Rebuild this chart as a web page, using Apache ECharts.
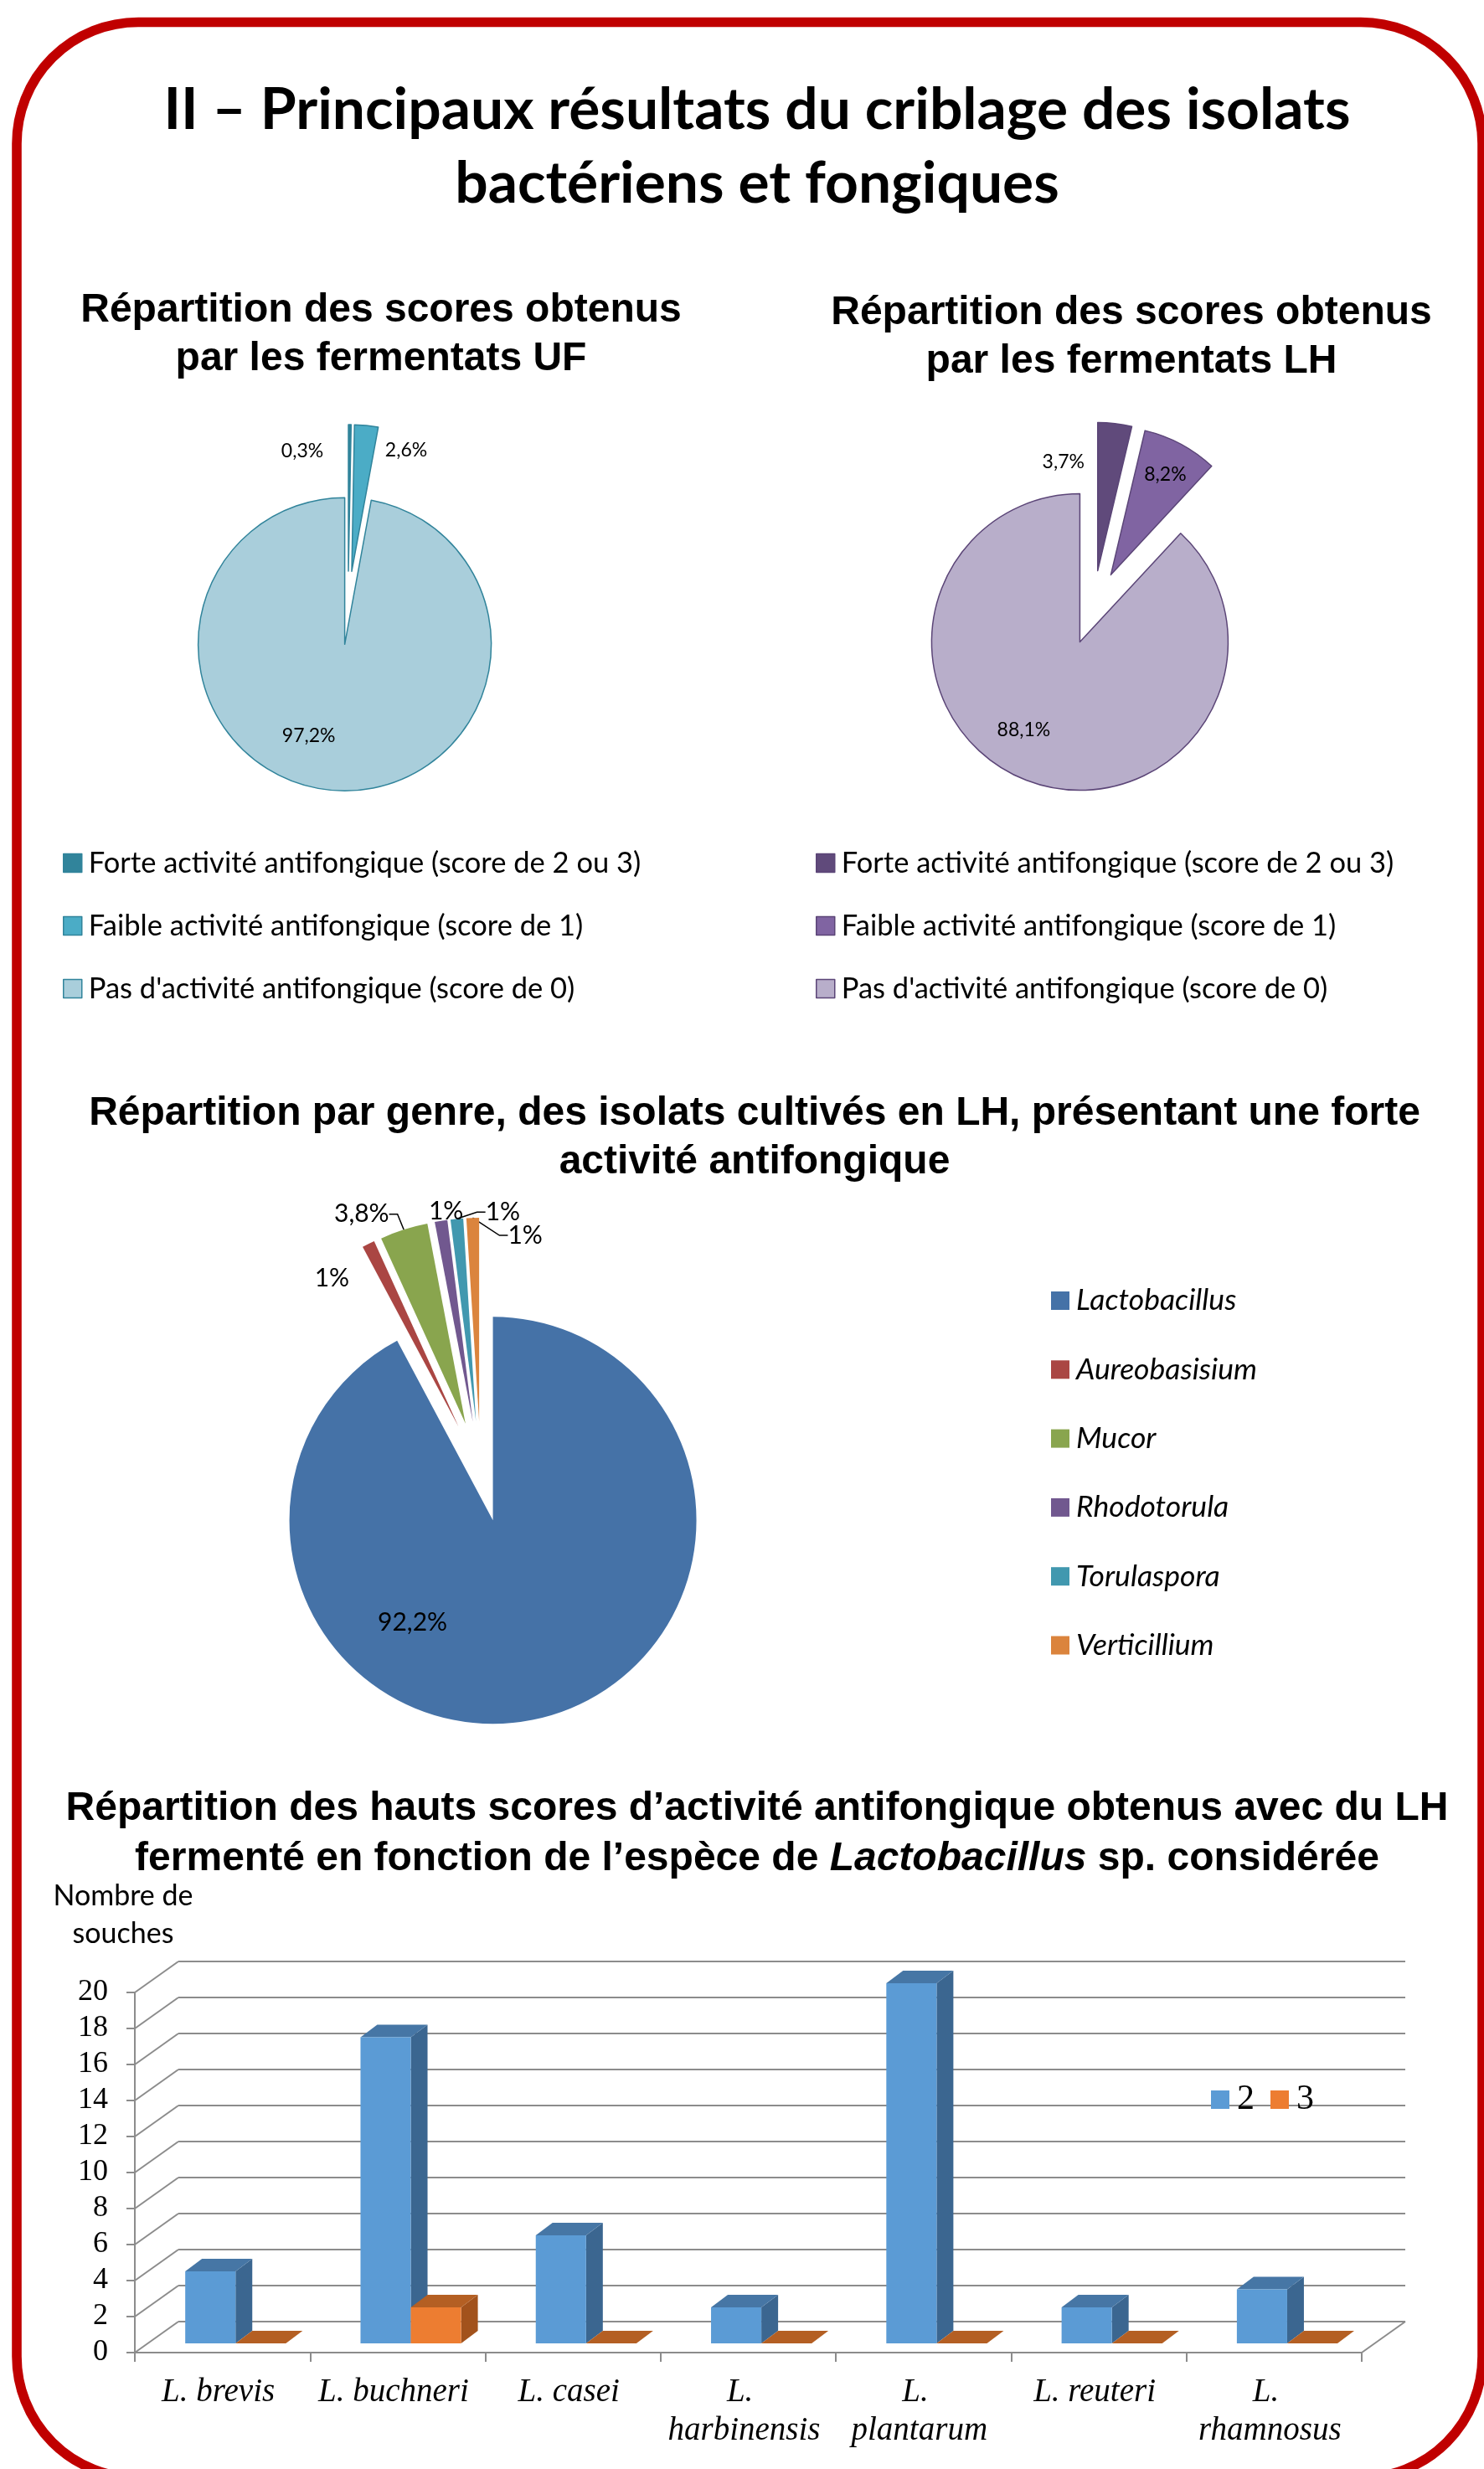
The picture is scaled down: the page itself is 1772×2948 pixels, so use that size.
<!DOCTYPE html>
<html>
<head>
<meta charset="utf-8">
<title>Criblage des isolats bactériens et fongiques</title>
<script src="https://cdn.jsdelivr.net/npm/echarts@6/dist/echarts.min.js"></script>
<style>
  html, body { margin: 0; padding: 0; background: #fff; }
  #chart { width: 1772px; height: 2948px; }
</style>
</head>
<body>
<div id="chart"></div>
<script>
// ---- Data -----------------------------------------------------------------
// Scores obtained by the fermentates (percentage of isolates)
const scoreNames = [
  'Forte activité antifongique (score de 2 ou 3)',
  'Faible activité antifongique (score de 1)',
  "Pas d'activité antifongique (score de 0)"
];
const ufValues = [0.3, 2.6, 97.2];
const lhValues = [3.7, 8.2, 88.1];

// Genera of the isolates grown in LH with a strong antifungal activity (%)
const genera = ['Lactobacillus', 'Aureobasisium', 'Mucor', 'Rhodotorula', 'Torulaspora', 'Verticillium'];
const genusValues = [92.2, 1, 3.8, 1, 1, 1];

// Number of Lactobacillus strains per high score
const species = ['L. brevis', 'L. buchneri', 'L. casei', 'L. harbinensis', 'L. plantarum', 'L. reuteri', 'L. rhamnosus'];
const scoreSeries = ['2', '3'];
const score2Counts = [4, 17, 6, 2, 20, 2, 3];
const score3Counts = [0, 2, 0, 0, 0, 0, 0];
const countAxisMin = 0;
const countAxisMax = 20;
const countAxisStep = 2;

// ---- Styles -----------------------------------------------------------------
const SANS = 'Lato';
const ARIAL = 'Liberation Sans';
const SERIF = 'Liberation Serif';
const GRID_COLOR = '#8c8c8c';

const ufColors = ['#31849b', '#4bacc6', '#a9cedb'];
const ufBorder = '#31849b';
const lhColors = ['#604a7b', '#8064a2', '#b8aeca'];
const lhBorder = '#5b4577';
const genusColors = ['#4572a7', '#aa4643', '#89a54e', '#71588f', '#4198af', '#db843d'];
const barFaces = [
  { front: '#5b9bd5', side: '#3b6690', top: '#4676a5' },
  { front: '#ed7d31', side: '#a2521c', top: '#b45f23' }
];

// label placement relative to the tip of each (exploded) slice
const ufLabelAt = [[-55, -143], [65, -145], [-43, 109]];
const lhLabelAt = [[-41, -130], [65, -120], [-67, 105]];
const genusLabelAt = [[-96, 122], [-151, -177], [-124, -250], [-32, -251], [32, -250], [55, -222]];
const genusLabelOutside = [false, true, true, true, true, true];
const genusLabelLine = [false, false, true, false, true, true];

const pct = p => String(p.value).replace('.', ',') + '%';

// One pie series per slice so that every slice can be pushed out from the
// centre along its own bisector, as in an exploded pie.
function explodedPie(cfg) {
  const total = cfg.values.reduce((s, v) => s + v, 0);
  let acc = 0;
  return cfg.values.map((value, k) => {
    const mid = (acc + value / 2) / total * 2 * Math.PI;
    acc += value;
    const cx = cfg.center[0] + cfg.explode * cfg.radius * Math.sin(mid);
    const cy = cfg.center[1] - cfg.explode * cfg.radius * Math.cos(mid);
    const at = cfg.labelAt[k];
    return {
      type: 'pie',
      name: cfg.id + '-' + k,
      silent: true,
      center: [cx, cy],
      radius: cfg.radius,
      startAngle: 90,
      clockwise: true,
      avoidLabelOverlap: false,
      label: { show: false },
      labelLine: { show: false },
      labelLayout: () => ({ x: cx + at[0], y: cy + at[1], align: 'center', verticalAlign: 'middle' }),
      data: cfg.names.map((name, j) => j === k ? {
        name: name,
        value: cfg.values[j],
        itemStyle: { color: cfg.colors[j], borderColor: cfg.border || cfg.colors[j], borderWidth: cfg.borderWidth || 0 },
        label: {
          show: true,
          position: (cfg.outside && cfg.outside[k]) ? 'outside' : 'inside',
          formatter: pct,
          fontFamily: SANS,
          fontSize: cfg.fontSize,
          color: '#000'
        },
        labelLine: {
          show: !!(cfg.lines && cfg.lines[k]),
          length: 8,
          length2: 10,
          lineStyle: { color: '#000', width: 1.5 }
        }
      } : {
        name: name,
        value: cfg.values[j],
        itemStyle: { color: 'rgba(0,0,0,0)', borderWidth: 0 },
        label: { show: false },
        labelLine: { show: false }
      })
    };
  });
}

// 3-D look of the column chart
const WALL_DX = 52, WALL_DY = 37;     // depth of the back wall
const BAR_DEPTH = 0.3;                // position of the columns inside the box
const BAR_DX = 20, BAR_DY = 15;       // thickness of a column
const BAR_FRAC = 0.287;               // column width / category band

function columnRenderer(slot, faces) {
  return function (params, api) {
    const i = api.value(0);
    const v = api.value(1);
    const base = api.coord([i, 0]);
    const head = api.coord([i, v]);
    const w = api.size([1, 0])[0] * BAR_FRAC;
    const x0 = base[0] - w + slot * w + BAR_DEPTH * WALL_DX;
    const x1 = x0 + w;
    const yb = base[1] - BAR_DEPTH * WALL_DY;
    const yt = head[1] - BAR_DEPTH * WALL_DY;
    return {
      type: 'group',
      children: [
        { type: 'polygon', shape: { points: [[x1, yb], [x1 + BAR_DX, yb - BAR_DY], [x1 + BAR_DX, yt - BAR_DY], [x1, yt]] }, style: { fill: faces.side } },
        { type: 'polygon', shape: { points: [[x0, yt], [x0 + BAR_DX, yt - BAR_DY], [x1 + BAR_DX, yt - BAR_DY], [x1, yt]] }, style: { fill: faces.top } },
        { type: 'rect', shape: { x: x0, y: yt, width: w, height: yb - yt }, style: { fill: faces.front } }
      ]
    };
  };
}

// side wall and floor edges of the 3-D box, one per axis tick
const wallTicks = [];
for (let v = countAxisMin; v <= countAxisMax; v += countAxisStep) wallTicks.push([0, v]);

function wallRenderer(params, api) {
  const v = api.value(1);
  const cs = params.coordSys;
  const y = api.coord([0, v])[1];
  const style = { stroke: GRID_COLOR, lineWidth: 2 };
  const children = [{ type: 'line', shape: { x1: cs.x, y1: y, x2: cs.x + WALL_DX, y2: y - WALL_DY }, style: style }];
  if (v === countAxisMin) {
    children.push({ type: 'line', shape: { x1: cs.x + cs.width, y1: y, x2: cs.x + cs.width + WALL_DX, y2: y - WALL_DY }, style: style });
  }
  return { type: 'group', children: children };
}

const sectionTitle = (text, x, top) => ({
  text: text, left: x, top: top, textAlign: 'center', padding: 0,
  textStyle: { fontFamily: ARIAL, fontWeight: 'bold', fontSize: 48, lineHeight: 58, color: '#000' }
});

const scoreLegend = (left, colors, border) => ({
  orient: 'vertical', left: left, top: 1013, icon: 'rect', padding: 0,
  itemWidth: 22, itemHeight: 22, itemGap: 40, selectedMode: false,
  textStyle: { fontFamily: SANS, fontSize: 34.5, color: '#000', lineHeight: 22, padding: [0, 0, 0, 3] },
  data: scoreNames.map((n, i) => ({ name: n, itemStyle: { color: colors[i], borderColor: border, borderWidth: 1.5 } }))
});

const chart = echarts.init(document.getElementById('chart'), null, { renderer: 'canvas' });

const option = {
  animation: false,
  backgroundColor: '#fff',
  graphic: [{
    type: 'rect', silent: true, z: 0,
    shape: { x: 20, y: 26.5, width: 1750, height: 2932, r: 145 },
    style: { fill: 'none', stroke: '#c00000', lineWidth: 11.6 }
  }],
  title: [
    {
      text: 'II – Principaux résultats du criblage des isolats\nbactériens et fongiques',
      left: 904, top: 88, textAlign: 'center', padding: 0,
      textStyle: { fontFamily: SANS, fontWeight: 'bold', fontSize: 69.5, lineHeight: 88, color: '#000' }
    },
    sectionTitle('Répartition des scores obtenus\npar les fermentats UF', 455, 342),
    sectionTitle('Répartition des scores obtenus\npar les fermentats LH', 1351, 345),
    sectionTitle('Répartition par genre, des isolats cultivés en LH, présentant une forte\nactivité antifongique', 901, 1301),
    {
      text: '{b|Répartition des hauts scores d’activité antifongique obtenus avec du LH}\n{b|fermenté en fonction de l’espèce de }{i|Lactobacillus}{b| sp. considérée}',
      left: 904, top: 2130, textAlign: 'center', padding: 0,
      textStyle: {
        rich: {
          b: { fontFamily: ARIAL, fontWeight: 'bold', fontSize: 48, lineHeight: 60, color: '#000' },
          i: { fontFamily: ARIAL, fontWeight: 'bold', fontStyle: 'italic', fontSize: 48, lineHeight: 60, color: '#000' }
        }
      }
    }
  ],
  legend: [
    scoreLegend(75, ufColors, ufBorder),
    scoreLegend(974, lhColors, lhBorder),
    {
      orient: 'vertical', left: 1255, top: 1535, icon: 'rect', padding: 0,
      itemWidth: 22, itemHeight: 22, itemGap: 46.3, selectedMode: false,
      textStyle: { fontFamily: SANS, fontStyle: 'italic', fontSize: 35.5, color: '#000', lineHeight: 22, padding: [0, 0, 0, 3] },
      data: genera.map((n, i) => ({ name: n, itemStyle: { color: genusColors[i] } }))
    },
    {
      orient: 'horizontal', left: 1446, top: 2486, icon: 'rect', padding: 0,
      itemWidth: 22, itemHeight: 22, itemGap: 19, selectedMode: false,
      textStyle: { fontFamily: SERIF, fontSize: 42, color: '#000', lineHeight: 22, padding: [0, 0, 0, 4] },
      data: scoreSeries.map((n, i) => ({ name: n, itemStyle: { color: barFaces[i].front } }))
    }
  ],
  grid: [
    { left: 161, top: 2379, width: 1465, height: 430, outerBoundsMode: 'none', containLabel: false },
    { left: 161 + WALL_DX, top: 2379 - WALL_DY, width: 1465, height: 430, outerBoundsMode: 'none', containLabel: false }
  ],
  xAxis: [
    {
      type: 'category', gridIndex: 0, data: species, boundaryGap: true,
      axisLine: { show: true, lineStyle: { color: GRID_COLOR, width: 2 } },
      axisTick: { show: true, length: 11, interval: 0, lineStyle: { color: GRID_COLOR, width: 2 } },
      axisLabel: {
        interval: 0, fontFamily: SERIF, fontStyle: 'italic', fontSize: 39, color: '#000',
        margin: 25, lineHeight: 46, width: 192, overflow: 'break', padding: [0, 10, 0, 0]
      },
      splitLine: { show: false }
    },
    { type: 'category', gridIndex: 1, data: species, show: false }
  ],
  yAxis: [
    {
      type: 'value', gridIndex: 0, min: countAxisMin, max: countAxisMax, interval: countAxisStep,
      name: 'Nombre de\nsouches', nameLocation: 'end', nameGap: 47,
      nameTextStyle: { fontFamily: SANS, fontSize: 34, color: '#000', lineHeight: 45, align: 'center', padding: [0, 28, 0, 0] },
      axisLine: { show: true, lineStyle: { color: GRID_COLOR, width: 2 } },
      axisTick: { show: true, length: 10, lineStyle: { color: GRID_COLOR, width: 2 } },
      axisLabel: { fontFamily: SERIF, fontSize: 36, color: '#000', margin: 32 },
      splitLine: { show: false }
    },
    {
      type: 'value', gridIndex: 1, min: countAxisMin, max: countAxisMax, interval: countAxisStep,
      axisLine: { show: false }, axisTick: { show: false }, axisLabel: { show: false },
      splitLine: { show: true, lineStyle: { color: GRID_COLOR, width: 2 } }
    }
  ],
  series: [
    ...explodedPie({
      id: 'uf', names: scoreNames, values: ufValues, colors: ufColors, border: ufBorder, borderWidth: 1.5,
      center: [415.6, 725.7], radius: 175, explode: 0.25, fontSize: 23, labelAt: ufLabelAt
    }),
    ...explodedPie({
      id: 'lh', names: scoreNames, values: lhValues, colors: lhColors, border: lhBorder, borderWidth: 1.5,
      center: [1305.6, 725.4], radius: 177, explode: 0.25, fontSize: 23, labelAt: lhLabelAt
    }),
    ...explodedPie({
      id: 'genre', names: genera, values: genusValues, colors: genusColors,
      center: [574, 1757], radius: 243, explode: 0.247, fontSize: 30, labelAt: genusLabelAt,
      outside: genusLabelOutside, lines: genusLabelLine
    }),
    {
      type: 'custom', name: 'paroi', xAxisIndex: 0, yAxisIndex: 0, silent: true, z: 1,
      data: wallTicks, encode: { x: 0, y: 1 }, renderItem: wallRenderer
    },
    {
      type: 'custom', name: scoreSeries[0], xAxisIndex: 0, yAxisIndex: 0, z: 3,
      itemStyle: { color: barFaces[0].front },
      data: score2Counts.map((v, i) => [i, v]), encode: { x: 0, y: 1 },
      renderItem: columnRenderer(0, barFaces[0])
    },
    {
      type: 'custom', name: scoreSeries[1], xAxisIndex: 0, yAxisIndex: 0, z: 4,
      itemStyle: { color: barFaces[1].front },
      data: score3Counts.map((v, i) => [i, v]), encode: { x: 0, y: 1 },
      renderItem: columnRenderer(1, barFaces[1])
    }
  ]
};

chart.setOption(option);
</script>
</body>
</html>
